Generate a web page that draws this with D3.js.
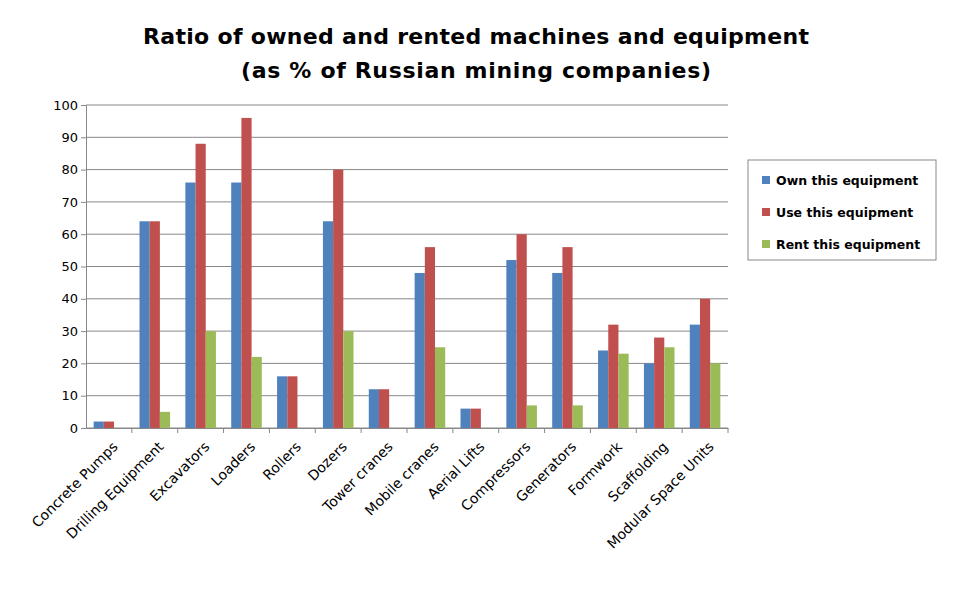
<!DOCTYPE html>
<html><head><meta charset="utf-8">
<script src="https://cdn.jsdelivr.net/npm/d3@7"></script>
<style>body{margin:0;background:#fff;font-family:"DejaVu Sans",Arial,sans-serif}</style>
</head><body><div id="chart"></div>
<script>
const categories = ["Concrete Pumps","Drilling Equipment","Excavators","Loaders","Rollers","Dozers","Tower cranes","Mobile cranes","Aerial Lifts","Compressors","Generators","Formwork","Scaffolding","Modular Space Units"];
const own  = [2,64,76,76,16,64,12,48,6,52,48,24,20,32];
const use  = [2,64,88,96,16,80,12,56,6,60,56,32,28,40];
const rent = [0,5,30,22,0,30,0,25,0,7,7,23,25,20];
const seriesNames = ["Own this equipment","Use this equipment","Rent this equipment"];
const colors = ["#4F81BD","#C0504D","#9BBB59"];
const yTicks = d3.range(0,101,10);

const W = 956, H = 590;
const m = {left: 86, top: 105, right: 228, bottom: 162};
const svg = d3.select("#chart").append("svg").attr("width", W).attr("height", H);

svg.append("text").attr("x", 476).attr("y", 44).attr("text-anchor","middle")
  .attr("font-size", 22).attr("font-weight","bold").attr("textLength", 666).text("Ratio of owned and rented machines and equipment");
svg.append("text").attr("x", 476).attr("y", 78).attr("text-anchor","middle")
  .attr("font-size", 22).attr("font-weight","bold").attr("textLength", 470).text("(as % of Russian mining companies)");

const x = d3.scaleBand().domain(categories).range([m.left, W - m.right]);
const y = d3.scaleLinear().domain([0,100]).range([H - m.bottom, m.top]);
const xs = d3.scaleBand().domain([0,1,2]).range([0, x.bandwidth()]).paddingInner(0).paddingOuter(0.75);

// gridlines
svg.append("g").selectAll("line").data(yTicks).join("line")
  .attr("x1", m.left).attr("x2", W - m.right)
  .attr("y1", d => y(d)).attr("y2", d => y(d)).attr("stroke", "#888").attr("stroke-width", 1);

const yAxis = svg.append("g").attr("transform", `translate(${m.left},0)`)
  .call(d3.axisLeft(y).tickValues(yTicks).tickSize(5));
yAxis.selectAll("text").attr("font-size", 13).attr("fill","#000").attr("font-family","DejaVu Sans");
yAxis.select(".domain").attr("stroke","#888");
yAxis.selectAll("line").attr("stroke","#888");

const series = [own, use, rent];
series.forEach((vals, si) => {
  svg.append("g").selectAll("rect").data(vals).join("rect")
    .attr("x", (d,i) => x(categories[i]) + xs(si))
    .attr("width", xs.bandwidth())
    .attr("y", d => y(d)).attr("height", d => y(0) - y(d))
    .attr("fill", colors[si]);
});

const xAxis = svg.append("g").attr("transform", `translate(0,${y(0)})`)
  .call(d3.axisBottom(x).tickSize(5).tickSizeOuter(0));
xAxis.select(".domain").attr("stroke","#888");
xAxis.selectAll("line").attr("stroke","#888").attr("transform", `translate(${x.bandwidth()/2},0)`);
xAxis.selectAll("text").attr("font-size", 14).attr("fill","#000").attr("font-family","DejaVu Sans")
  .attr("text-anchor","end").attr("dy", 0).attr("dx", 0)
  .attr("transform","translate(4,14) rotate(-45)");

// legend
const lg = svg.append("g").attr("transform","translate(748,160)");
lg.append("rect").attr("width", 188).attr("height", 100).attr("fill","#fff").attr("stroke","#888");
seriesNames.forEach((n,i) => {
  lg.append("rect").attr("x", 14).attr("y", 16 + i*32).attr("width", 8).attr("height", 8).attr("fill", colors[i]);
  lg.append("text").attr("x", 28).attr("y", 25 + i*32).attr("font-size", 12.5).attr("font-weight","bold").text(n);
});
</script></body></html>
